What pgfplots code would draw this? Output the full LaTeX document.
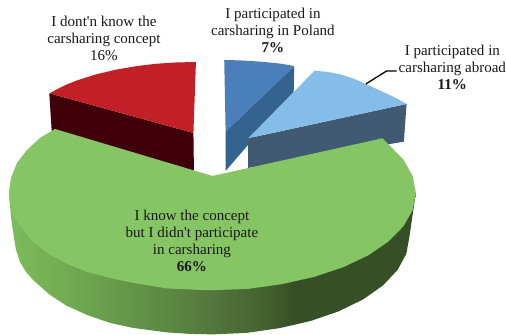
\documentclass[border=0pt]{standalone}
\usepackage{fontspec}
\setmainfont{Liberation Serif}[Ligatures=TeXOff]
\usepackage{pgfplots}
\pgfplotsset{compat=1.18}
\definecolor{rimA}{HTML}{7CBC5D}
\definecolor{rimB}{HTML}{74B055}
\definecolor{rimC}{HTML}{679A4B}
\definecolor{rimD}{HTML}{5A8441}
\definecolor{rimE}{HTML}{4E7038}
\definecolor{rimF}{HTML}{42602F}
\definecolor{rimG}{HTML}{364F26}
\definecolor{redtop}{HTML}{C12026}
\definecolor{redside}{HTML}{400009}
\definecolor{bluetop}{HTML}{4A7FBB}
\definecolor{blueside}{HTML}{35638F}
\definecolor{skytop}{HTML}{85BDE8}
\definecolor{skyside}{HTML}{3F5A72}
\definecolor{greentop}{HTML}{86C564}
% Shaded rim of the large slice: left to right, light to dark green
\pgfdeclarehorizontalshading{greenrim}{100bp}{
  color(0bp)=(rimA); color(25bp)=(rimA); color(30bp)=(rimB); color(38bp)=(rimC);
  color(46bp)=(rimD); color(52bp)=(rimE); color(57bp)=(rimF); color(60bp)=(rimG);
  color(100bp)=(rimG)}
\tikzset{slicelabel/.style={font=\fontsize{15.1}{17}\selectfont, align=center, inner sep=0pt, text=black!90}}
\begin{document}
\begin{tikzpicture}
\begin{axis}[hide axis, scale only axis, width=506bp, height=335bp,
  xmin=0, xmax=506, ymin=0, ymax=335, y dir=reverse, clip=false]
% page extent
\addplot[fill=white, draw=none] coordinates {(0,0) (506,0) (506,335) (0,335)};

% 7% slice
\addplot[fill=blueside, draw=none] coordinates {(225.7,131.7) (294.3,66) (293.8,92) (225.7,171)};
\addplot[fill=bluetop, draw=none] coordinates {(224.3,60) (240,60.4) (260,61.6) (280,63.6) (294.3,66) (225.7,131.7)};

% 11% slice
\addplot[fill=skyside, draw=none] coordinates {(248.3,138.3) (406.7,104) (404,141.7) (248.3,168)};
\addplot[fill=skytop, draw=none] coordinates {(248.3,138.3) (314.7,70.7) (328,72) (340,74.3) (353,78.4) (366,84) (380,90.5) (394,97) (406.7,104)};

% 16% slice
\addplot[fill=redside, draw=none] coordinates {(49.3,93.3) (193.5,133) (194,172) (51.7,131)};
\addplot[fill=redtop, draw=none] coordinates {(196,62) (176,62.5) (156,63.8) (136,66.2) (116,69.7) (96,74.4) (76,80.8) (66,84.8) (49.3,93.3) (193.5,133)};

% 66% slice: rim, then top face
\addplot[draw=none, shade, shading=greenrim] coordinates {
  (9,193) (11,217) (14,238) (16,250) (20,262) (26,272) (33,280) (50,295) (67,306) (87,315)
  (110,323) (133,328) (167,332.5) (190,334) (212.5,334.5) (246.7,333) (279.9,328.2)
  (311,321) (339.1,311.3) (363.4,299.4) (383.1,285.5) (397.6,270.2) (406.5,253.8)
  (409.5,237) (416,193)};
\addplot[fill=greentop, draw=none] coordinates {
  (212.5,176) (55,129) (40,138) (27,150) (17,163) (11,178) (9,192)
  (10,205) (13,216) (20,226) (33,242) (50,255) (67,264) (87,272) (110,278)
  (133,283) (167,288.5) (200,290) (212.5,290.3) (247.8,289) (282.1,284.2) (314.25,277)
  (343.3,267.3) (368.4,255.4) (388.7,241.5) (403.7,226.2) (412.9,209.8) (416,193)
  (412.9,176.2) (403.7,159.8) (388.7,144.5) (382.7,138.3)};

% leader line of the 11% label
\addplot[black, line width=1.3pt] coordinates {(366,84) (386.7,71) (396.7,71)};

\node[slicelabel] at (axis cs:104,38) {I dont'n know the\\carsharing concept\\16\%};
\node[slicelabel] at (axis cs:273,30) {I participated in\\carsharing in Poland\\\textbf{7\%}};
\node[slicelabel] at (axis cs:452.5,67) {I participated in\\carsharing abroad\\\textbf{11\%}};
\node[slicelabel] at (axis cs:192,241) {I know the concept\\but I didn't participate\\in carsharing\\\textbf{66\%}};
\end{axis}
\end{tikzpicture}
\end{document}
